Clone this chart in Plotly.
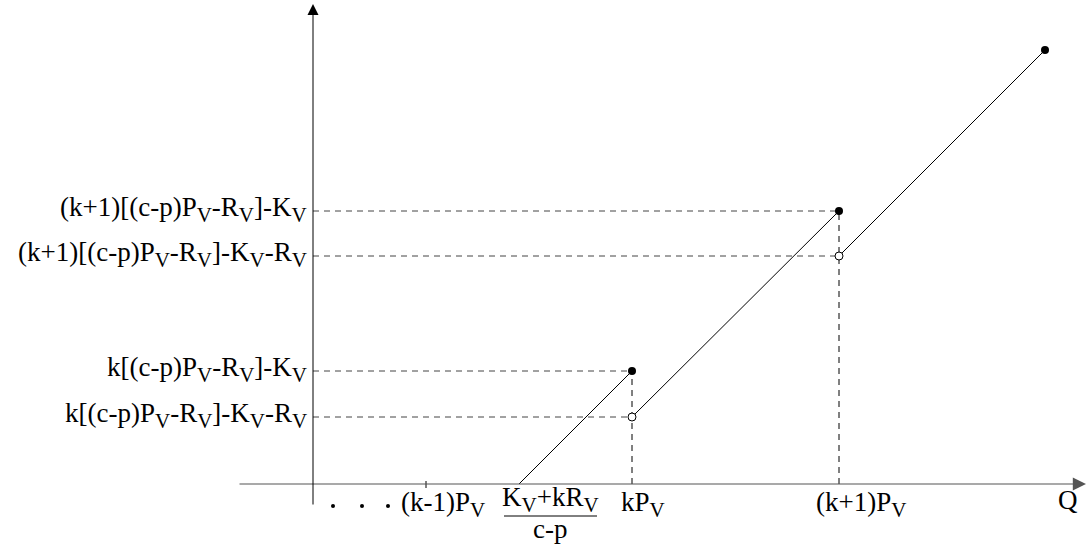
import plotly.graph_objects as go

# ---- data (abstract units: origin at axes crossing) ----
q_ticks = [113, 319, 526]                      # (k-1)P_V, kP_V, (k+1)P_V
q_label_centers = [130, 330, 548]
breakeven_q = 206
segments_q = [[206, 319], [319, 526], [526, 732]]
segments_profit = [[0, 113], [67, 273], [228, 434]]
profit_levels = [273, 228, 113, 67]
level_q = [526, 526, 319, 319]
ellipsis_q = [20, 49, 75]

SUB = '<sub><span style="font-size:21px">V</span></sub>'
q_tick_labels = ["(k-1)P" + SUB, "kP" + SUB, "(k+1)P" + SUB]
profit_labels = [
    "(k+1)[(c-p)P" + SUB + "-R" + SUB + "]-K" + SUB,
    "(k+1)[(c-p)P" + SUB + "-R" + SUB + "]-K" + SUB + "-R" + SUB,
    "k[(c-p)P" + SUB + "-R" + SUB + "]-K" + SUB,
    "k[(c-p)P" + SUB + "-R" + SUB + "]-K" + SUB + "-R" + SUB,
]
breakeven_num = "K" + SUB + "+kR" + SUB
breakeven_den = "c-p"

FONT = "Liberation Serif"
FS = 27

fig = go.Figure()

# dashed guide lines
for lv, q in zip(profit_levels, level_q):
    fig.add_trace(go.Scatter(x=[0, q], y=[lv, lv], mode="lines",
                             line=dict(color="#444444", width=1, dash="6px,5px"),
                             hoverinfo="skip", showlegend=False))
for q, top in [(319, 113), (526, 273)]:
    fig.add_trace(go.Scatter(x=[q, q], y=[0, top], mode="lines",
                             line=dict(color="black", width=1, dash="6px,5px"),
                             hoverinfo="skip", showlegend=False))

# profit segments
for xs, ys in zip(segments_q, segments_profit):
    fig.add_trace(go.Scatter(x=xs, y=ys, mode="lines",
                             line=dict(color="black", width=1),
                             hoverinfo="skip", showlegend=False))

# filled end points
fig.add_trace(go.Scatter(x=[s[1] for s in segments_q], y=[s[1] for s in segments_profit],
                         mode="markers", marker=dict(color="black", size=8),
                         hoverinfo="skip", showlegend=False))
# open start points
fig.add_trace(go.Scatter(x=[s[0] for s in segments_q[1:]], y=[s[0] for s in segments_profit[1:]],
                         mode="markers",
                         marker=dict(color="white", size=8, line=dict(color="black", width=1)),
                         hoverinfo="skip", showlegend=False))

# ellipsis dots
fig.add_trace(go.Scatter(x=ellipsis_q, y=[-22] * 3, mode="markers",
                         marker=dict(color="black", size=4),
                         hoverinfo="skip", showlegend=False))

# tick mark for (k-1)P_V
fig.add_shape(type="line", x0=q_ticks[0], x1=q_ticks[0], y0=-4, y1=3,
              line=dict(color="black", width=1))

# axes with arrows
fig.add_annotation(x=773, y=0, ax=-75, ay=0, xref="x", yref="y", axref="x", ayref="y",
                   showarrow=True, arrowhead=2, arrowsize=2.2, arrowwidth=1.2,
                   arrowcolor="#555555", text="")
fig.add_annotation(x=0, y=480, ax=0, ay=-22, xref="x", yref="y", axref="x", ayref="y",
                   showarrow=True, arrowhead=2, arrowsize=2.2, arrowwidth=1,
                   arrowcolor="black", text="")

# y labels
for lv, lab in zip(profit_levels, profit_labels):
    fig.add_annotation(x=-4, y=lv, xref="x", yref="y", text=lab, showarrow=False,
                       xanchor="right", yanchor="middle", yshift=2,
                       font=dict(family=FONT, size=FS, color="black"))

# x labels
for xc, lab in zip(q_label_centers, q_tick_labels):
    fig.add_annotation(x=xc, y=-20, xref="x", yref="y", text=lab, showarrow=False,
                       xanchor="center", yanchor="middle",
                       font=dict(family=FONT, size=FS, color="black"))

# break-even fraction label
fig.add_annotation(x=237, y=-15, xref="x", yref="y", text=breakeven_num,
                   showarrow=False, xanchor="center", yanchor="middle",
                   font=dict(family=FONT, size=FS, color="black"))
fig.add_shape(type="line", x0=191, x1=284, y0=-32, y1=-32, line=dict(color="black", width=1))
fig.add_annotation(x=237, y=-45, xref="x", yref="y", text=breakeven_den,
                   showarrow=False, xanchor="center", yanchor="middle",
                   font=dict(family=FONT, size=FS, color="black"))

# axis name
fig.add_annotation(x=755, y=-16, xref="x", yref="y", text="Q", showarrow=False,
                   xanchor="center", yanchor="middle",
                   font=dict(family=FONT, size=FS, color="black"))

fig.update_layout(
    width=1086, height=544,
    margin=dict(l=0, r=0, t=0, b=0),
    paper_bgcolor="white", plot_bgcolor="white",
    xaxis=dict(range=[-313, 773], visible=False, fixedrange=True),
    yaxis=dict(range=[-60, 484], visible=False, fixedrange=True),
    showlegend=False,
)

fig.write_html("out.html", config={"displayModeBar": False},
               post_script="document.body.style.margin='0px';document.body.style.overflow='hidden';")
